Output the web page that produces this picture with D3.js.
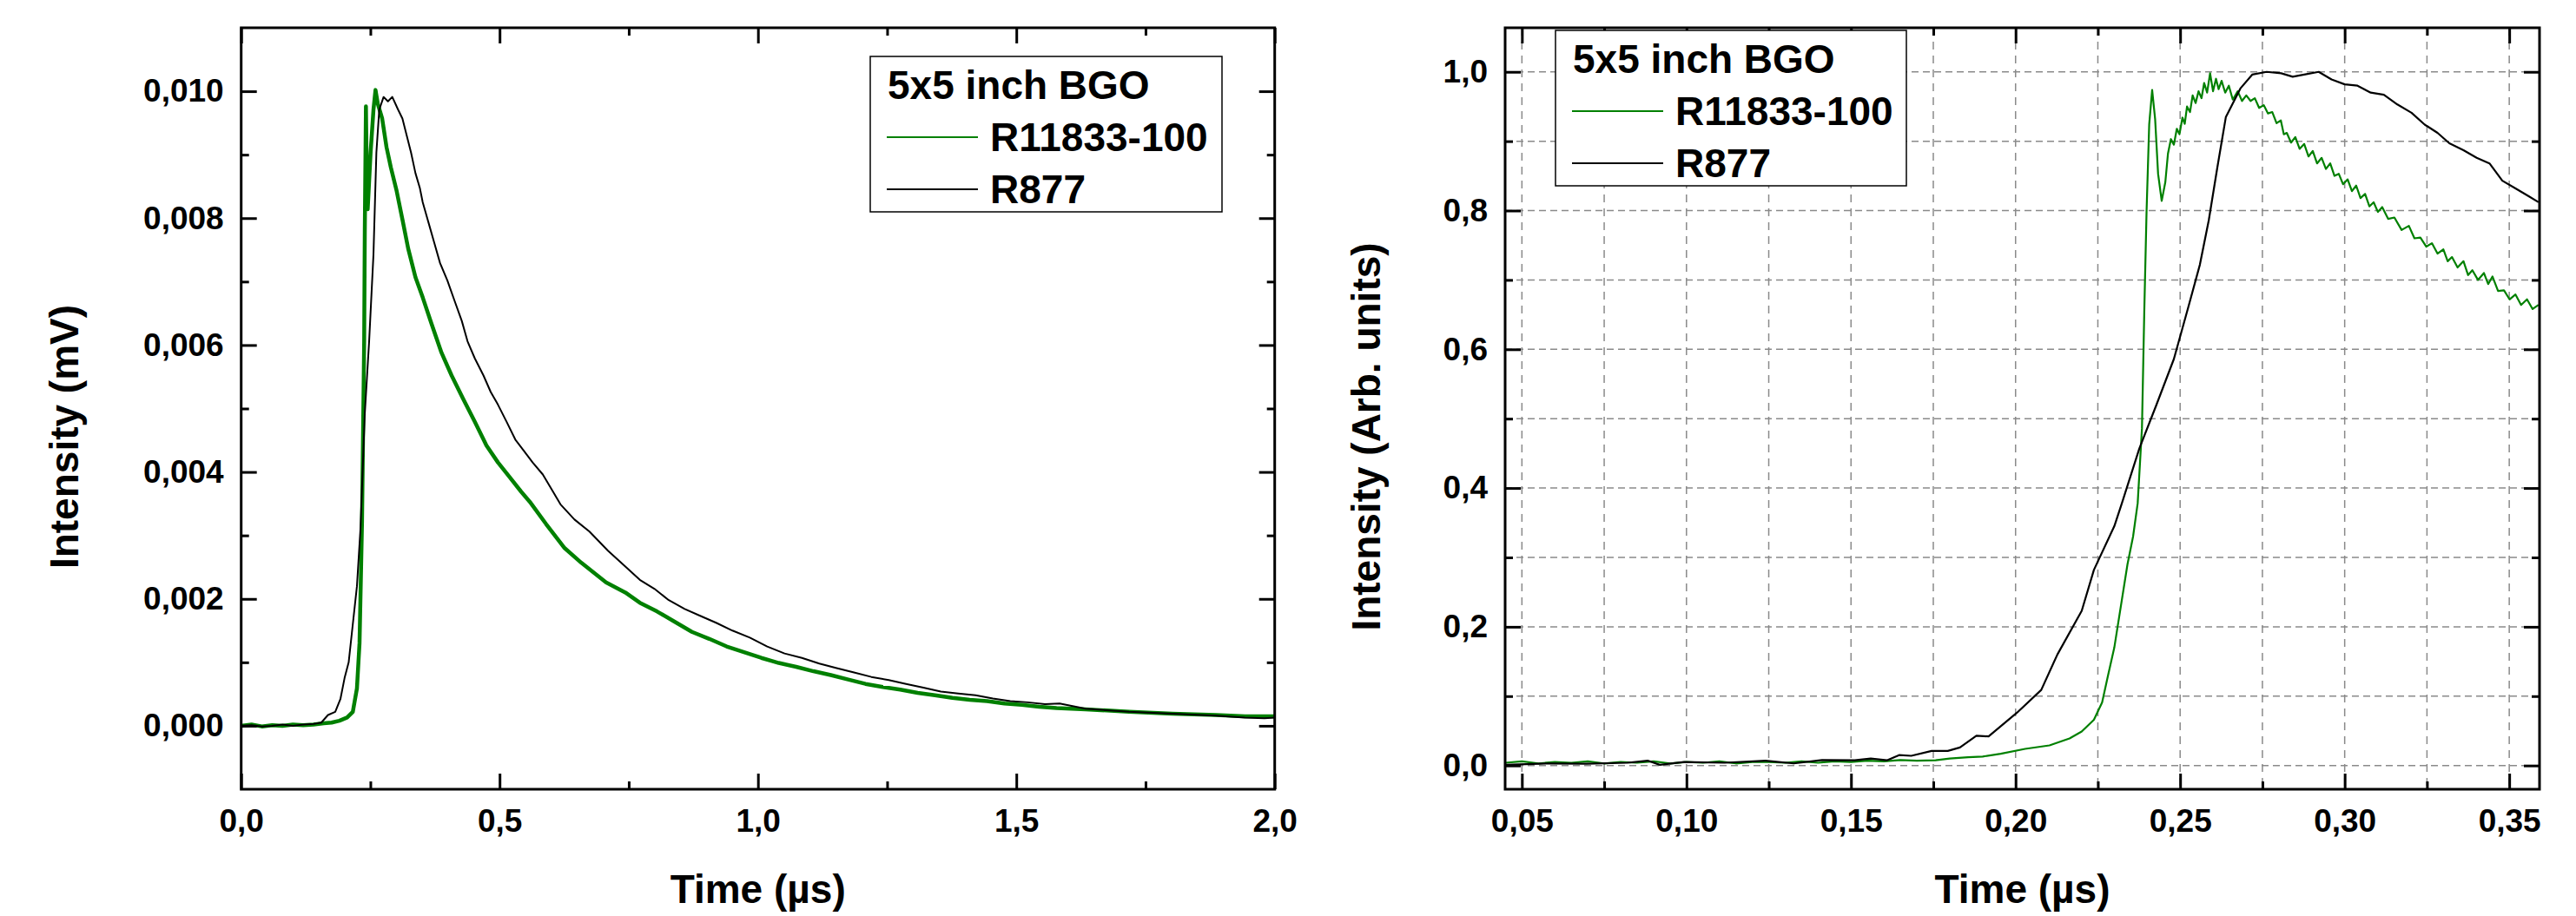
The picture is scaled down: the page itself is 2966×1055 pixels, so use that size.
<!DOCTYPE html>
<html lang="en">
<head>
<meta charset="UTF-8">
<title>5x5 inch BGO pulses</title>
<script src="https://d3js.org/d3.v7.min.js"></script>
<style>
    body { margin: 0; background: #fff; }
    text { font-family: Arial, "Liberation Sans", sans-serif; font-weight: bold; fill: #000; }
</style>
</head>
<body>
<script>
// ---- data ----
var legendTitle = "5x5 inch BGO";
var seriesNames = ["R11833-100", "R877"];
var seriesColors = ["#008000", "#000000"];

// left panel: time (us), intensity (mV)
var leftTicksX = [0, 0.5, 1.0, 1.5, 2.0];
var leftMinorX = [0.25, 0.75, 1.25, 1.75];
var leftTicksY = [0, 0.002, 0.004, 0.006, 0.008, 0.010];
var leftMinorY = [0.001, 0.003, 0.005, 0.007, 0.009];

var leftR11833 = [[0.000,0.00000],[0.020,0.00002],[0.040,-0.00001],[0.060,0.00001],[0.080,0.00000],[0.100,0.00002],[0.120,0.00001],[0.140,0.00002],[0.160,0.00004],[0.175,0.00005],[0.190,0.00008],[0.205,0.00013],[0.216,0.00022],[0.224,0.00059],[0.229,0.00130],[0.2338,0.00320],[0.2360,0.00470],[0.2380,0.00606],[0.2392,0.00780],[0.2414,0.00976],[0.2425,0.00900],[0.2448,0.00814],[0.2504,0.00903],[0.2560,0.00971],[0.2599,0.01002],[0.2644,0.00980],[0.2728,0.00957],[0.2812,0.00912],[0.2896,0.00880],[0.3008,0.00843],[0.3120,0.00798],[0.3232,0.00752],[0.3372,0.00707],[0.3513,0.00675],[0.3681,0.00634],[0.3876,0.00588],[0.4072,0.00552],[0.4296,0.00515],[0.4521,0.00479],[0.4745,0.00442],[0.4969,0.00415],[0.5193,0.00392],[0.5417,0.00369],[0.5585,0.00353],[0.5900,0.00318],[0.6259,0.00280],[0.6580,0.00257],[0.7060,0.00226],[0.7434,0.00210],[0.7714,0.00194],[0.8050,0.00180],[0.8386,0.00164],[0.8722,0.00148],[0.9058,0.00137],[0.9394,0.00125],[0.9730,0.00116],[1.0066,0.00107],[1.0402,0.00099],[1.0738,0.00093],[1.1074,0.00086],[1.1410,0.00080],[1.1746,0.00073],[1.2082,0.00066],[1.2418,0.00061],[1.2754,0.00057],[1.3090,0.00052],[1.3426,0.00048],[1.3762,0.00044],[1.4098,0.00041],[1.4434,0.00039],[1.4770,0.00035],[1.5106,0.00033],[1.5442,0.00030],[1.5779,0.00028],[1.6341,0.00026],[1.7182,0.00022],[1.8022,0.00019],[1.8862,0.00017],[1.9423,0.00015],[2.000,0.00015]];

var leftR877 = [[0.000,0.00000],[0.020,0.00001],[0.040,-0.00001],[0.060,0.00000],[0.080,0.00002],[0.100,0.00000],[0.120,0.00002],[0.140,0.00003],[0.155,0.00005],[0.168,0.00017],[0.182,0.00022],[0.192,0.00042],[0.200,0.00075],[0.208,0.00100],[0.216,0.00160],[0.224,0.00220],[0.2308,0.00310],[0.2392,0.00492],[0.2476,0.00606],[0.2560,0.00743],[0.2616,0.00903],[0.2672,0.00971],[0.2756,0.00991],[0.2840,0.00984],[0.2924,0.00991],[0.3036,0.00971],[0.3120,0.00957],[0.3204,0.00930],[0.3288,0.00903],[0.3372,0.00871],[0.3456,0.00848],[0.3513,0.00825],[0.3625,0.00793],[0.3737,0.00761],[0.3849,0.00729],[0.3989,0.00702],[0.4128,0.00670],[0.4269,0.00638],[0.4380,0.00606],[0.4521,0.00579],[0.4689,0.00552],[0.4829,0.00526],[0.4969,0.00506],[0.5137,0.00479],[0.5305,0.00451],[0.5472,0.00433],[0.5640,0.00415],[0.5837,0.00396],[0.6034,0.00369],[0.6178,0.00349],[0.6450,0.00325],[0.6740,0.00306],[0.7097,0.00276],[0.7434,0.00251],[0.7714,0.00230],[0.7994,0.00216],[0.8274,0.00198],[0.8582,0.00184],[0.8891,0.00173],[0.9199,0.00162],[0.9507,0.00150],[0.9843,0.00139],[1.0179,0.00125],[1.0515,0.00114],[1.0851,0.00107],[1.1187,0.00098],[1.1523,0.00091],[1.1859,0.00084],[1.2195,0.00077],[1.2531,0.00072],[1.2867,0.00066],[1.3203,0.00060],[1.3539,0.00054],[1.3875,0.00051],[1.4211,0.00048],[1.4547,0.00043],[1.4883,0.00039],[1.5219,0.00037],[1.5555,0.00034],[1.5837,0.00035],[1.6341,0.00027],[1.7182,0.00022],[1.8022,0.00019],[1.8862,0.00016],[1.9423,0.00013],[1.9800,0.00012],[2.000,0.00013]];

// right panel: zoom on the rising edge, normalised
var rightTicksX = [0.05, 0.10, 0.15, 0.20, 0.25, 0.30, 0.35];
var rightMinorX = [0.075, 0.125, 0.175, 0.225, 0.275, 0.325];
var rightTicksY = [0, 0.2, 0.4, 0.6, 0.8, 1.0];
var rightMinorY = [0.1, 0.3, 0.5, 0.7, 0.9];

var rightR11833 = [[0.045,0.004],[0.050,0.006],[0.055,0.003],[0.060,0.005],[0.065,0.004],[0.070,0.006],[0.075,0.003],[0.080,0.005],[0.085,0.004],[0.090,0.006],[0.095,0.003],[0.100,0.005],[0.105,0.004],[0.110,0.006],[0.115,0.003],[0.120,0.005],[0.125,0.005],[0.130,0.004],[0.135,0.006],[0.140,0.004],[0.145,0.006],[0.150,0.005],[0.155,0.007],[0.160,0.006],[0.165,0.008],[0.170,0.007],[0.1757,0.0075],[0.180,0.010],[0.1856,0.012],[0.190,0.013],[0.1955,0.017],[0.2029,0.024],[0.2103,0.029],[0.2164,0.039],[0.2201,0.049],[0.2238,0.066],[0.2263,0.091],[0.2280,0.128],[0.2300,0.170],[0.2320,0.230],[0.2340,0.290],[0.2357,0.330],[0.2371,0.378],[0.2384,0.486],[0.2391,0.653],[0.2398,0.799],[0.2406,0.924],[0.2415,0.974],[0.2424,0.932],[0.2433,0.853],[0.2444,0.814],[0.2455,0.841],[0.2463,0.882],[0.2472,0.903],[0.2481,0.895],[0.2490,0.918],[0.2498,0.910],[0.2507,0.934],[0.2514,0.925],[0.2521,0.950],[0.2530,0.942],[0.2538,0.966],[0.2547,0.955],[0.2556,0.972],[0.2565,0.962],[0.2573,0.984],[0.2582,0.970],[0.2591,0.998],[0.2600,0.972],[0.2609,0.990],[0.2617,0.975],[0.2626,0.987],[0.2637,0.970],[0.2648,0.980],[0.2660,0.960],[0.2675,0.972],[0.2688,0.958],[0.2701,0.966],[0.2714,0.958],[0.2727,0.962],[0.2740,0.948],[0.2754,0.952],[0.2767,0.940],[0.2780,0.942],[0.2793,0.926],[0.2806,0.930],[0.2815,0.910],[0.2824,0.912],[0.2837,0.898],[0.2850,0.906],[0.2863,0.889],[0.2877,0.896],[0.2890,0.878],[0.2903,0.886],[0.2916,0.868],[0.2930,0.876],[0.2943,0.860],[0.2956,0.868],[0.2969,0.850],[0.2982,0.853],[0.2995,0.838],[0.3009,0.845],[0.3022,0.828],[0.3035,0.836],[0.3048,0.818],[0.3062,0.824],[0.3075,0.806],[0.3088,0.812],[0.3101,0.798],[0.3114,0.805],[0.3132,0.788],[0.3151,0.790],[0.3173,0.772],[0.3195,0.778],[0.3212,0.760],[0.3230,0.761],[0.3248,0.748],[0.3265,0.753],[0.3282,0.738],[0.3300,0.744],[0.3313,0.727],[0.3326,0.733],[0.3343,0.718],[0.3361,0.727],[0.3375,0.707],[0.3388,0.714],[0.3405,0.700],[0.3423,0.710],[0.3436,0.694],[0.3449,0.705],[0.3466,0.684],[0.3484,0.685],[0.3501,0.672],[0.3519,0.679],[0.3536,0.664],[0.3554,0.672],[0.3571,0.658],[0.3589,0.664]];

var rightR877 = [[0.0451,0.001],[0.0574,0.003],[0.0697,0.0025],[0.0820,0.004],[0.0882,0.007],[0.0919,0.001],[0.0993,0.005],[0.1116,0.004],[0.1240,0.007],[0.1326,0.003],[0.1412,0.008],[0.1511,0.0075],[0.1560,0.010],[0.1609,0.0075],[0.1646,0.015],[0.1683,0.014],[0.1745,0.021],[0.1794,0.021],[0.1831,0.026],[0.1881,0.043],[0.1918,0.042],[0.2004,0.076],[0.2078,0.109],[0.2127,0.160],[0.2201,0.223],[0.2238,0.282],[0.2300,0.345],[0.2323,0.378],[0.2376,0.457],[0.2428,0.520],[0.2481,0.586],[0.2525,0.661],[0.2560,0.722],[0.2587,0.786],[0.2613,0.862],[0.2639,0.935],[0.2683,0.976],[0.2719,0.996],[0.2763,1.000],[0.2807,0.998],[0.2842,0.993],[0.2877,0.996],[0.2921,1.000],[0.2960,0.989],[0.3000,0.982],[0.3039,0.980],[0.3079,0.970],[0.3119,0.967],[0.3160,0.953],[0.3203,0.941],[0.3243,0.924],[0.3282,0.912],[0.3318,0.897],[0.3361,0.887],[0.3401,0.876],[0.3440,0.868],[0.3479,0.843],[0.3519,0.832],[0.3558,0.821],[0.3589,0.812]];

// ---- drawing ----
var W = 2966, H = 1055;
var svg = d3.select("body").append("svg")
    .attr("width", W)
    .attr("height", H)
    .style("background", "#fff");

var comma = d3.formatLocale({ decimal: ",", thousands: ".", grouping: [3], currency: ["", ""] });

function drawPanel(p) {
    var g = svg.append("g");
    var x = d3.scaleLinear().domain(p.xDomain).range([p.left, p.right]);
    var y = d3.scaleLinear().domain(p.yDomain).range([p.bottom, p.top]);

    // dashed grid (right panel only)
    if (p.grid) {
        var gridX = p.xTicks.concat(p.xMinor);
        var gridY = p.yTicks.concat(p.yMinor);
        g.selectAll(".gx").data(gridX).enter().append("line")
            .attr("x1", d => x(d)).attr("x2", d => x(d))
            .attr("y1", p.top).attr("y2", p.bottom)
            .attr("stroke", "#8a8a8a").attr("stroke-width", 1.5)
            .attr("stroke-dasharray", "9,7");
        g.selectAll(".gy").data(gridY).enter().append("line")
            .attr("x1", p.left).attr("x2", p.right)
            .attr("y1", d => y(d)).attr("y2", d => y(d))
            .attr("stroke", "#8a8a8a").attr("stroke-width", 1.5)
            .attr("stroke-dasharray", "8,5");
    }

    // curves
    var clipId = "clip" + p.id;
    svg.append("clipPath").attr("id", clipId).append("rect")
        .attr("x", p.left).attr("y", p.top)
        .attr("width", p.right - p.left).attr("height", p.bottom - p.top);
    var line = d3.line().x(d => x(d[0])).y(d => y(d[1]));
    var curves = g.append("g").attr("clip-path", "url(#" + clipId + ")");
    p.series.forEach(function (s, i) {
        curves.append("path")
            .datum(s)
            .attr("d", line)
            .attr("fill", "none")
            .attr("stroke", seriesColors[i])
            .attr("stroke-width", p.widths[i])
            .attr("stroke-linejoin", "round");
    });

    // axes, ticks inward on all four sides
    function styleAxis(sel) {
        sel.select(".domain").remove();
        sel.selectAll(".tick line").attr("stroke", "#000").attr("stroke-width", 3);
        sel.selectAll(".tick text").style("font-size", "37px").attr("fill", "#000");
    }
    var major = 18, minor = 9;
    g.append("g").attr("transform", "translate(0," + p.bottom + ")")
        .call(d3.axisBottom(x).tickValues(p.xTicks).tickSize(-major).tickPadding(23).tickFormat(p.xFmt))
        .call(styleAxis);
    g.append("g").attr("transform", "translate(0," + p.bottom + ")")
        .call(d3.axisBottom(x).tickValues(p.xMinor).tickSize(-minor).tickFormat(""))
        .call(styleAxis);
    g.append("g").attr("transform", "translate(0," + p.top + ")")
        .call(d3.axisTop(x).tickValues(p.xTicks).tickSize(-major).tickFormat(""))
        .call(styleAxis);
    g.append("g").attr("transform", "translate(0," + p.top + ")")
        .call(d3.axisTop(x).tickValues(p.xMinor).tickSize(-minor).tickFormat(""))
        .call(styleAxis);
    g.append("g").attr("transform", "translate(" + p.left + ",0)")
        .call(d3.axisLeft(y).tickValues(p.yTicks).tickSize(-major).tickPadding(20).tickFormat(p.yFmt))
        .call(styleAxis);
    g.append("g").attr("transform", "translate(" + p.left + ",0)")
        .call(d3.axisLeft(y).tickValues(p.yMinor).tickSize(-minor).tickFormat(""))
        .call(styleAxis);
    g.append("g").attr("transform", "translate(" + p.right + ",0)")
        .call(d3.axisRight(y).tickValues(p.yTicks).tickSize(-major).tickFormat(""))
        .call(styleAxis);
    g.append("g").attr("transform", "translate(" + p.right + ",0)")
        .call(d3.axisRight(y).tickValues(p.yMinor).tickSize(-minor).tickFormat(""))
        .call(styleAxis);

    g.append("rect")
        .attr("x", p.left).attr("y", p.top)
        .attr("width", p.right - p.left).attr("height", p.bottom - p.top)
        .attr("fill", "none").attr("stroke", "#000").attr("stroke-width", 3);

    // axis titles
    g.append("text")
        .attr("x", (p.left + p.right) / 2).attr("y", 1040)
        .attr("text-anchor", "middle").style("font-size", "46px")
        .text("Time (\u00b5s)");
    g.append("text")
        .attr("transform", "translate(" + p.yTitleX + ",503) rotate(-90)")
        .attr("text-anchor", "middle").style("font-size", "46px")
        .text(p.yTitle);

    // legend
    var L = p.legend;
    var lg = g.append("g");
    lg.append("rect")
        .attr("x", L.x0).attr("y", L.y0)
        .attr("width", L.x1 - L.x0).attr("height", L.y1 - L.y0)
        .attr("fill", "#fff").attr("stroke", "#000").attr("stroke-width", 1.5);
    lg.append("text").attr("x", L.x0 + 20).attr("y", L.y0 + 49)
        .style("font-size", "46px").text(legendTitle);
    seriesNames.forEach(function (name, i) {
        var ly = L.y0 + 93 + i * 60;
        lg.append("line")
            .attr("x1", L.x0 + 19).attr("x2", L.x0 + 124)
            .attr("y1", ly).attr("y2", ly)
            .attr("stroke", seriesColors[i]).attr("stroke-width", 2.2);
        lg.append("text").attr("x", L.x0 + 138).attr("y", ly + 16)
            .style("font-size", "46px").text(name);
    });
}

drawPanel({
    id: "L",
    left: 277.7, right: 1467.7, top: 32, bottom: 909,
    xDomain: [0, 2.0], yDomain: [-0.001, 0.011],
    xTicks: leftTicksX, xMinor: leftMinorX,
    yTicks: leftTicksY, yMinor: leftMinorY,
    xFmt: comma.format(".1f"), yFmt: comma.format(".3f"),
    series: [leftR11833, leftR877], widths: [4.5, 2],
    grid: false,
    yTitle: "Intensity (mV)", yTitleX: 90,
    legend: { x0: 1002, y0: 65, x1: 1407, y1: 244 }
});

drawPanel({
    id: "R",
    left: 1733, right: 2924, top: 32, bottom: 909,
    xDomain: [0.0449, 0.3592], yDomain: [-0.0342, 1.0635],
    xTicks: rightTicksX, xMinor: rightMinorX,
    yTicks: rightTicksY, yMinor: rightMinorY,
    xFmt: comma.format(".2f"), yFmt: comma.format(".1f"),
    series: [rightR11833, rightR877], widths: [2.2, 2.2],
    grid: true,
    yTitle: "Intensity (Arb. units)", yTitleX: 1589,
    legend: { x0: 1791, y0: 35, x1: 2195, y1: 214 }
});
</script>
</body>
</html>
